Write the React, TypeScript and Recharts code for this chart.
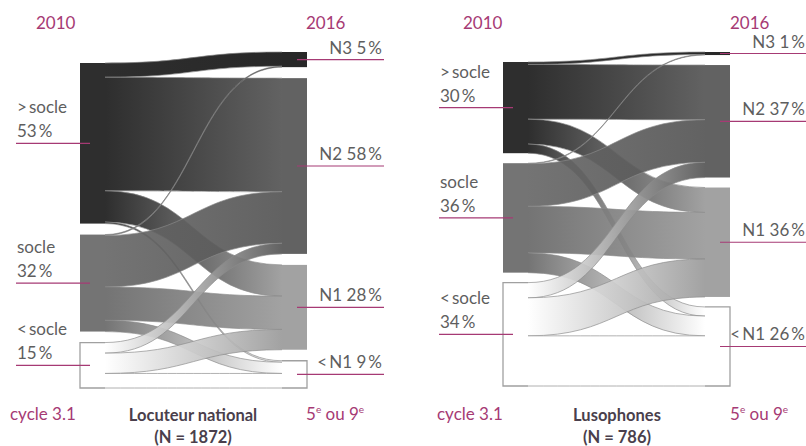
import React from 'react';
import { Sankey } from 'recharts';

// ---- data ----
const sourceLevels = ['>\u2009socle', 'socle', '<\u2009socle'];
const targetLevels = ['N3', 'N2', 'N1', '<\u2009N1'];

const nationalSourceShares = [53, 32, 15];
const nationalTargetShares = [5, 58, 28, 9];
// rows: source level, columns: target level (N3, N2, N1, <N1)
const nationalFlows = [
  [4.7, 37.5, 10.3, 0.5],
  [0.3, 17, 11, 3.7],
  [0, 3.5, 6.7, 4.8],
];

const lusoSourceShares = [30, 36, 34];
const lusoTargetShares = [1, 37, 36, 26];
const lusoFlows = [
  [0.8, 18, 8.2, 3],
  [0.2, 14, 15.3, 6.5],
  [0, 5, 12.5, 16.5],
];

// ---- styles ----
const sourceColors = ['#1c1c1c', '#686868', '#ffffff'];
const targetColors = ['#161616', '#555555', '#9a9a9a', '#ffffff'];
const sourceLight = [false, false, true];
const targetLight = [false, false, false, true];
const PINK = '#a63a74';
const GREY_TEXT = '#5e5e5e';
const FONT = 'Lato, "Open Sans", sans-serif';
const FILL_OPACITY = 0.92;

function buildData(sourceShares: number[], targetShares: number[], flows: number[][]) {
  const nodes = [
    ...sourceLevels.map((name, i) => ({
      name,
      share: sourceShares[i],
      side: 'left',
      color: sourceColors[i],
      light: sourceLight[i],
    })),
    ...targetLevels.map((name, i) => ({
      name,
      share: targetShares[i],
      side: 'right',
      color: targetColors[i],
      light: targetLight[i],
    })),
  ];
  const links: { source: number; target: number; value: number }[] = [];
  flows.forEach((row, i) =>
    row.forEach((v, j) => {
      if (v > 0) links.push({ source: i, target: sourceLevels.length + j, value: v });
    })
  );
  return { nodes, links };
}

const pct = (v: number) => `${v}\u2009%`;

function makeNode() {
  return (props: any) => {
    const { x, y, width, height, payload } = props;
    const cy = y + height / 2;
    const isLeft = payload.side === 'left';
    const outline = isLeft
      ? `M${x + width},${y} H${x} V${y + height} H${x + width}`
      : `M${x},${y} H${x + width} V${y + height} H${x}`;
    return (
      <g>
        <rect x={x} y={y} width={width} height={height} fill={payload.color} fillOpacity={FILL_OPACITY} stroke="none" />
        {payload.light && <path d={outline} fill="none" stroke="#a0a0a0" strokeWidth={1.3} />}
        {isLeft ? (
          <g>
            <text x={x - 63} y={cy - 30} fontFamily={FONT} fontSize={17} fill={GREY_TEXT}>
              {payload.name}
            </text>
            <text x={x - 63} y={cy - 6} fontFamily={FONT} fontSize={17} fill={GREY_TEXT}>
              {pct(payload.share)}
            </text>
            <line x1={x - 64} x2={x + 10} y1={cy} y2={cy} stroke={PINK} strokeWidth={1.2} />
          </g>
        ) : (
          <g>
            <text
              x={x + width + 75}
              y={cy - 6}
              textAnchor="end"
              fontFamily={FONT}
              fontSize={17}
              fill={GREY_TEXT}
            >
              {`${payload.name} ${pct(payload.share)}`}
            </text>
            <line x1={x + 15} x2={x + width + 77} y1={cy} y2={cy} stroke={PINK} strokeWidth={1.2} />
          </g>
        )}
      </g>
    );
  };
}

function makeLink(chartId: string) {
  return (props: any) => {
    const { sourceX, targetX, sourceY, targetY, sourceControlX, targetControlX, linkWidth, index, payload } =
      props;
    const h = linkWidth / 2;
    const id = `grad-${chartId}-${index}`;
    const c1 = payload?.source?.color ?? '#555';
    const c2 = payload?.target?.color ?? '#555';
    const top = `M${sourceX},${sourceY - h} C${sourceControlX},${sourceY - h} ${targetControlX},${targetY - h} ${targetX},${targetY - h}`;
    const bottom = `M${targetX},${targetY + h} C${targetControlX},${targetY + h} ${sourceControlX},${sourceY + h} ${sourceX},${sourceY + h}`;
    const area =
      top +
      ` L${targetX},${targetY + h} C${targetControlX},${targetY + h} ${sourceControlX},${sourceY + h} ${sourceX},${sourceY + h} Z`;
    return (
      <g>
        <defs>
          <linearGradient id={id} gradientUnits="userSpaceOnUse" x1={sourceX} x2={targetX} y1={0} y2={0}>
            <stop offset="0%" stopColor={c1} />
            <stop offset="100%" stopColor={c2} />
          </linearGradient>
        </defs>
        <path d={area} fill={`url(#${id})`} fillOpacity={FILL_OPACITY} stroke="none" />
        <path d={top} fill="none" stroke="#8a8a8a" strokeWidth={0.9} strokeOpacity={0.75} />
        <path d={bottom} fill="none" stroke="#8a8a8a" strokeWidth={0.9} strokeOpacity={0.75} />
      </g>
    );
  };
}

const nationalData = buildData(nationalSourceShares, nationalTargetShares, nationalFlows);
const lusoData = buildData(lusoSourceShares, lusoTargetShares, lusoFlows);

function Sup({ children }: { children: string }) {
  return (
    <tspan dy={-7} fontSize={10}>
      {children}
    </tspan>
  );
}

export default function App() {
  return (
    <div style={{ position: 'absolute', left: 0, top: 0, width: 806, height: 446, background: '#fff', overflow: 'hidden' }}>
      <div style={{ position: 'absolute', left: 0, top: 0 }}>
        <Sankey
          width={403}
          height={446}
          data={nationalData}
          nodeWidth={25}
          nodePadding={11}
          iterations={32}
          sort={false}
          margin={{ top: 52, bottom: 58, left: 80, right: 96 }}
          node={makeNode()}
          link={makeLink('nat')}
        />
      </div>
      <div style={{ position: 'absolute', left: 403, top: 0 }}>
        <Sankey
          width={403}
          height={446}
          data={lusoData}
          nodeWidth={25}
          nodePadding={10}
          iterations={32}
          sort={false}
          margin={{ top: 52, bottom: 60, left: 100, right: 76 }}
          node={makeNode()}
          link={makeLink('luso')}
        />
      </div>
      <svg width={806} height={446} style={{ position: 'absolute', left: 0, top: 0, pointerEvents: 'none' }}>
        <g fontFamily={FONT} fontSize={17} fill={PINK}>
          <text x={36} y={29}>2010</text>
          <text x={306} y={29}>2016</text>
          <text x={10} y={420}>cycle 3.1</text>
          <text x={306} y={420}>
            5<Sup>e</Sup>
            <tspan dy={7}> ou 9</tspan>
            <Sup>e</Sup>
          </text>
          <text x={463} y={29}>2010</text>
          <text x={730} y={29}>2016</text>
          <text x={437} y={420}>cycle 3.1</text>
          <text x={730} y={420}>
            5<Sup>e</Sup>
            <tspan dy={7}> ou 9</tspan>
            <Sup>e</Sup>
          </text>
        </g>
        <g fontFamily={FONT} fontSize={16.5} fontWeight={700} fill="#4a3f4c" textAnchor="middle">
          <text x={193} y={421}>Locuteur national</text>
          <text x={193} y={443}>(N = 1872)</text>
          <text x={617} y={421}>Lusophones</text>
          <text x={617} y={443}>(N = 786)</text>
        </g>
      </svg>
    </div>
  );
}
